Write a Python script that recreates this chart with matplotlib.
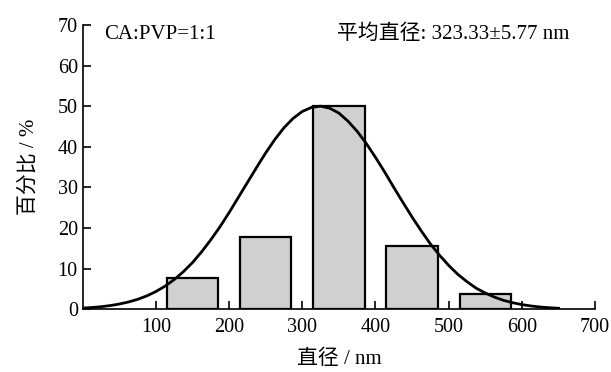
import matplotlib
matplotlib.use("Agg")
import matplotlib.pyplot as plt

# histogram data
centers = [150, 250, 350, 450, 550]
percent = [7.8, 17.7, 50.0, 15.7, 3.7]

# fitted curve, every 12.5 nm
curve_x = [0, 12.5, 25, 37.5, 50, 62.5, 75, 87.5, 100, 112.5, 125, 137.5, 150,
           162.5, 175, 187.5, 200, 212.5, 225, 237.5, 250, 262.5, 275, 287.5, 300,
           312.5, 325, 337.5, 350, 362.5, 375, 387.5, 400, 412.5, 425, 437.5, 450,
           462.5, 475, 487.5, 500, 512.5, 525, 537.5, 550, 562.5, 575, 587.5, 600,
           612.5, 625, 637.5, 650]
curve_y = [0.3, 0.44, 0.64, 0.92, 1.3, 1.8, 2.45, 3.3, 4.37, 5.7, 7.32, 9.25, 11.5,
           14.15, 17.1, 20.3, 23.8, 27.5, 31.2, 34.9, 38.5, 41.8, 44.7, 47.0, 48.7,
           49.7, 50.0, 49.5, 48.3, 46.3, 43.8, 40.8, 37.4, 33.8, 30.0, 26.3, 22.7,
           19.3, 16.1, 13.3, 10.8, 8.6, 6.8, 5.2, 4.0, 3.0, 2.2, 1.62, 1.16,
           0.82, 0.57, 0.39, 0.26]

fonts = ['Liberation Serif', 'Noto Sans CJK SC']
plt.rcParams['font.family'] = fonts

fig = plt.figure(figsize=(6.11, 3.72), dpi=100)
ax = fig.add_axes([0.1353, 0.1685, 0.8387, 0.7645])

ax.bar(centers, percent, width=70, color='#d0d0d0', edgecolor='black', linewidth=1.6, zorder=2)
ax.plot(curve_x, curve_y, color='black', linewidth=2.0, zorder=3)

ax.set_xlim(0, 700)
ax.set_ylim(0, 70)
ax.set_xticks([100, 200, 300, 400, 500, 600, 700])
ax.set_yticks(range(0, 80, 10))
ax.tick_params(direction='in', length=6, width=1.2, labelsize=14.5)
ax.tick_params(axis='x', pad=6)
ax.spines['top'].set_visible(False)
ax.spines['right'].set_visible(False)
for s in ['left', 'bottom']:
    ax.spines[s].set_linewidth(1.2)

ax.set_xlabel('直径 / nm', fontsize=15, labelpad=9, fontweight='light')
ax.set_ylabel('百分比 / %', fontsize=15, labelpad=14, fontweight='light')

ax.text(29, 67.6, 'CA:PVP=1:1', fontsize=15, va='center', ha='left')
ax.text(348, 67.6, '平均直径: 323.33±5.77 nm', fontsize=15, va='center', ha='left',
        fontweight='light')

fig.savefig('out.png', dpi=100)
